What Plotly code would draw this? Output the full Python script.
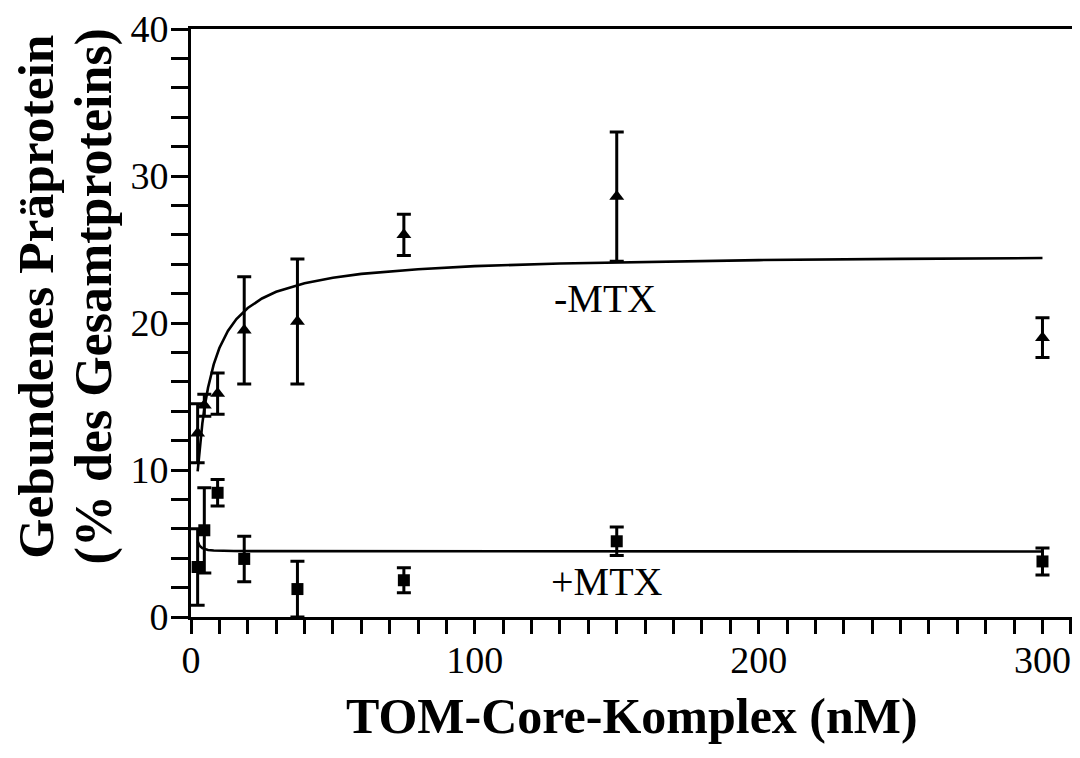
import plotly.graph_objects as go

# ---- data ----
conc = [2.34, 4.69, 9.375, 18.75, 37.5, 75, 150, 300]

minus_mtx = [12.5, 14.4, 15.2, 19.5, 20.1, 26.0, 28.6, 19.0]
minus_mtx_err = [2.0, 0.75, 1.4, 3.65, 4.25, 1.4, 4.4, 1.35]

plus_mtx = [3.4, 5.9, 8.45, 3.95, 1.9, 2.5, 5.15, 3.78]
plus_mtx_err = [2.6, 2.9, 0.9, 1.55, 1.9, 0.85, 0.97, 0.92]

# fitted curves
fit_minus_x = [2.34, 3, 4, 5, 6, 8, 10, 13, 16, 20, 25, 30, 40, 50, 60, 80, 100, 130, 160, 200, 250, 300]
fit_minus_y = [9.9, 11.4, 13.17, 14.53, 15.6, 17.18, 18.3, 19.46, 20.27, 21.02, 21.67, 22.12, 22.71,
               23.08, 23.34, 23.66, 23.87, 24.05, 24.17, 24.28, 24.36, 24.42]

fit_plus_x = [2.34, 3, 4, 5, 6, 8, 10, 15, 20, 50, 100, 150, 200, 300]
fit_plus_y = [5.15, 4.85, 4.68, 4.6, 4.56, 4.52, 4.5, 4.49, 4.48, 4.48, 4.47, 4.47, 4.46, 4.46]

x_ticks = [0, 100, 200, 300]
y_ticks = [0, 10, 20, 30, 40]

FONT = "Liberation Serif"

fig = go.Figure()

fig.add_trace(go.Scatter(x=fit_minus_x, y=fit_minus_y, mode="lines",
                         line=dict(color="black", width=2.6), hoverinfo="skip"))
fig.add_trace(go.Scatter(x=fit_plus_x, y=fit_plus_y, mode="lines",
                         line=dict(color="black", width=2.6), hoverinfo="skip"))

fig.add_trace(go.Scatter(
    x=conc, y=minus_mtx, mode="markers",
    marker=dict(symbol="triangle-up", size=13, color="black"),
    error_y=dict(type="data", array=minus_mtx_err, visible=True, color="black", thickness=3, width=7),
    cliponaxis=False))
fig.add_trace(go.Scatter(
    x=conc, y=plus_mtx, mode="markers",
    marker=dict(symbol="square", size=12, color="black"),
    error_y=dict(type="data", array=plus_mtx_err, visible=True, color="black", thickness=3, width=7),
    cliponaxis=False))

axis_common = dict(
    showgrid=False, zeroline=False, showline=True, linecolor="black", linewidth=3,
    mirror=True, ticks="outside", tickcolor="black", tickwidth=2.5, automargin=False,
    tickfont=dict(family=FONT, size=38, color="black"),
)

fig.update_xaxes(range=[0, 310.4], tickmode="array", tickvals=x_ticks, ticklen=14,
                 ticklabelstandoff=-7,
                 minor=dict(dtick=10, tick0=0, ticks="outside", ticklen=14, tickwidth=2.5, tickcolor="black"),
                 **axis_common)
fig.update_yaxes(range=[0, 40], tickmode="array", tickvals=y_ticks, ticklen=17,
                 ticklabelstandoff=-5,
                 minor=dict(dtick=2, tick0=0, ticks="outside", ticklen=17, tickwidth=2.5, tickcolor="black"),
                 **axis_common)

annos = [
    dict(x=146, y=21.7, xref="x", yref="y", text="-MTX", showarrow=False,
         font=dict(family=FONT, size=40, color="black")),
    dict(x=146.5, y=2.4, xref="x", yref="y", text="+MTX", showarrow=False,
         font=dict(family=FONT, size=40, color="black")),
    dict(x=0.5, y=-0.168, xref="paper", yref="paper", text="<b>TOM-Core-Komplex (nM)</b>",
         showarrow=False, xanchor="center", yanchor="middle",
         font=dict(family=FONT, size=50, color="black")),
    dict(x=-0.1765, y=0.544, xref="paper", yref="paper", text="<b>Gebundenes Präprotein</b>",
         showarrow=False, textangle=-90, xanchor="center", yanchor="middle",
         font=dict(family=FONT, size=51.5, color="black")),
    dict(x=-0.1096, y=0.546, xref="paper", yref="paper", text="<b>(% des Gesamtproteins)</b>",
         showarrow=False, textangle=-90, xanchor="center", yanchor="middle",
         font=dict(family=FONT, size=52, color="black")),
]

# the page body has an 8px margin, so the figure is sized/margined to put the
# plot area at the same place as in the reference
fig.update_layout(
    width=1068, height=748,
    margin=dict(l=183, r=4, t=21, b=139),
    plot_bgcolor="white", paper_bgcolor="white",
    showlegend=False,
    annotations=annos,
)

fig.write_html("out.html")
